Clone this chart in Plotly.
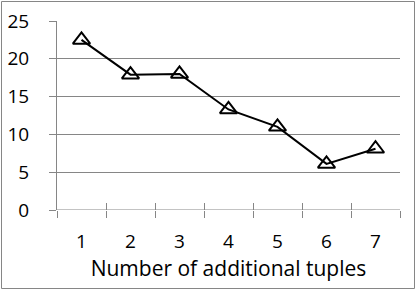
import plotly.graph_objects as go

categories = [1, 2, 3, 4, 5, 6, 7]
values = [22.5, 17.9, 18.0, 13.3, 11.0, 6.1, 8.1]
y_ticks = [0, 5, 10, 15, 20, 25]
x_title = "Number of additional tuples"

W, H = 416, 291
L, R, T, B = 57, 16, 21, 81
pw, ph = W - L - R, H - T - B

fig = go.Figure()
fig.add_trace(go.Scatter(
    x=categories, y=values, mode="lines+markers",
    line=dict(color="black", width=2),
    marker=dict(symbol="triangle-up-open", size=15, color="black",
                line=dict(color="black", width=2)),
    showlegend=False, cliponaxis=False,
))
fig.add_trace(go.Scatter(x=[categories[0]], y=[values[0]], xaxis="x2",
                         mode="markers", marker=dict(opacity=0),
                         showlegend=False, hoverinfo="skip"))

font = dict(family="Open Sans, Calibri, sans-serif", size=19, color="black")
title_font = dict(family="Open Sans, Calibri, sans-serif", size=21, color="black")
grid = "#868686"
fig.update_layout(
    width=W, height=H,
    margin=dict(l=L, r=R, t=T, b=B),
    paper_bgcolor="white", plot_bgcolor="white",
    font=font,
    xaxis=dict(
        range=[0.5, 7.5], tickvals=categories, ticktext=[str(c) for c in categories],
        ticks="", showgrid=False, zeroline=False, automargin=False,
        showline=False, ticklabelstandoff=18,
        minor=dict(tick0=0.5, dtick=1, ticks="outside", ticklen=7,
                   tickcolor=grid, tickwidth=1, showgrid=False),
        title=dict(text=x_title, font=title_font, standoff=6),
        fixedrange=True,
    ),
    xaxis2=dict(
        overlaying="x", range=[0.5, 7.5], showticklabels=False,
        tick0=0.5, dtick=1, ticks="inside", ticklen=7, automargin=False,
        tickcolor=grid, tickwidth=1, showgrid=False, zeroline=False,
        showline=False, side="bottom",
    ),
    yaxis=dict(
        range=[0, 25], tickvals=y_ticks, ticks="outside", ticklen=7,
        tickcolor=grid, showgrid=True, gridcolor=grid, gridwidth=1,
        zeroline=False, showline=True, linecolor=grid, linewidth=1,
        ticklabelstandoff=16, automargin=False,
    ),
)
fig.add_shape(type="line", xref="paper", yref="y", x0=0, x1=1, y0=0, y1=0,
              line=dict(color=grid, width=1))
fig.add_shape(type="rect", xref="paper", yref="paper",
              x0=(1.5 - L) / pw, x1=(414.5 - L) / pw,
              y0=(H - B - 288.5) / ph, y1=(H - B - 1.5) / ph,
              line=dict(color=grid, width=1), fillcolor="rgba(0,0,0,0)", layer="above")
fig.write_html("out.html", config={"displayModeBar": False, "staticPlot": True},
               post_script="document.body.style.margin='0';document.body.style.overflow='hidden';")
